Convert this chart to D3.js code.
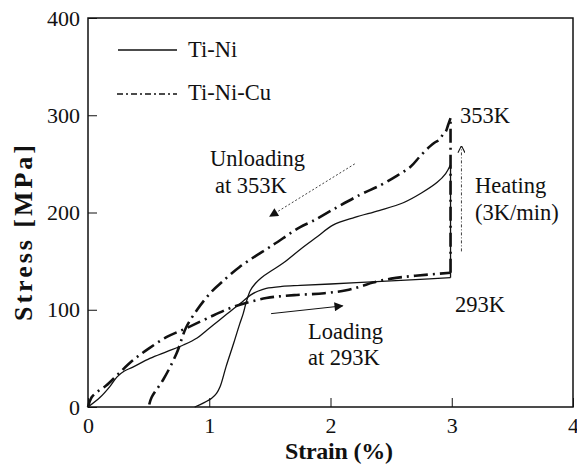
<!DOCTYPE html>
<html>
<head>
<meta charset="utf-8">
<script src="https://cdn.jsdelivr.net/npm/d3@7"></script>
<style>
  body { margin: 0; background: #fff; }
  svg text { font-family: "Liberation Serif", "Times New Roman", Times, serif; fill: #111; }
  .axis text { font-size: 22px; }
  .axis path, .axis line { stroke: #111; }
</style>
</head>
<body>
<div id="chart"></div>
<script>
// strain (%) / stress (MPa)
var xTicks = [0, 1, 2, 3, 4];
var yTicks = [0, 100, 200, 300, 400];

var tiNiLoad = [[0,0],[0.1,10],[0.18,21],[0.24,31],[0.3,37],[0.37,41],[0.51,50],[0.65,57],[0.79,64],[0.9,71],[0.98,79],[1.08,89],[1.17,98],[1.26,107],[1.34,115],[1.4,119],[1.47,122],[1.6,124],[1.75,125],[2.0,126.5],[2.38,129],[2.7,131],[2.99,133]];
var tiNiHeat = [[2.99,133],[2.99,249]];
var tiNiUnload = [[2.99,249],[2.95,240],[2.88,231],[2.75,220],[2.6,210],[2.4,202],[2.2,195],[2.02,187],[1.89,175],[1.75,162],[1.61,148],[1.5,139],[1.43,133],[1.38,127],[1.34,120],[1.31,110],[1.28,96],[1.25,85],[1.2,65],[1.14,42],[1.09,21],[1.06,14],[1.02,9],[0.95,4],[0.88,0]];

var cuLoad = [[0,0],[0.03,10],[0.07,15],[0.15,22],[0.25,34],[0.37,48],[0.5,60],[0.65,72],[0.81,81],[0.98,91],[1.2,103],[1.47,112],[1.7,115],[1.95,117],[2.13,120],[2.25,124],[2.35,128],[2.5,132],[2.7,135],[2.99,138]];
var cuHeat = [[2.99,138],[2.99,297]];
var cuUnload = [[2.99,297],[2.97,290],[2.95,283],[2.93,281],[2.9,275],[2.86,272],[2.82,268],[2.74,258],[2.66,247],[2.55,238],[2.41,228],[2.24,218],[2.02,203],[1.85,191],[1.75,185],[1.53,167],[1.25,144],[1.1,128],[1.03,120],[0.96,110],[0.9,100],[0.81,82],[0.73,55],[0.62,28],[0.525,10],[0.5,0]];

var width = 577, height = 469;
var margin = {left: 88, right: 4, top: 18, bottom: 62};

var svg = d3.select("#chart").append("svg")
  .attr("width", width)
  .attr("height", height);

var x = d3.scaleLinear().domain([0, 4]).range([margin.left, width - margin.right]);
var y = d3.scaleLinear().domain([0, 400]).range([height - margin.bottom, margin.top]);

// frame
svg.append("rect")
  .attr("x", x(0)).attr("y", y(400))
  .attr("width", x(4) - x(0)).attr("height", y(0) - y(400))
  .attr("fill", "none").attr("stroke", "#111").attr("stroke-width", 1.5);

var xAxis = svg.append("g")
  .attr("class", "axis")
  .attr("transform", "translate(0," + y(0) + ")")
  .call(d3.axisBottom(x).tickValues(xTicks).tickSizeInner(-9).tickSizeOuter(0).tickPadding(10).tickFormat(d3.format("d")));
xAxis.select(".domain").remove();
xAxis.attr("font-family", null).attr("font-size", null);

var yAxis = svg.append("g")
  .attr("class", "axis")
  .attr("transform", "translate(" + x(0) + ",0)")
  .call(d3.axisLeft(y).tickValues(yTicks).tickSizeInner(-9).tickSizeOuter(0).tickPadding(8).tickFormat(d3.format("d")));
yAxis.select(".domain").remove();
yAxis.attr("font-family", null).attr("font-size", null);

// axis titles
svg.append("text")
  .attr("x", 339).attr("y", 459)
  .attr("text-anchor", "middle")
  .attr("font-weight", "bold").attr("font-size", 24)
  .attr("textLength", 108).attr("lengthAdjust", "spacing")
  .text("Strain (%)");

svg.append("text")
  .attr("transform", "translate(32,233) rotate(-90)")
  .attr("text-anchor", "middle")
  .attr("font-weight", "bold").attr("font-size", 26)
  .attr("textLength", 176).attr("lengthAdjust", "spacing")
  .text("Stress [MPa]");

var smooth = d3.line()
  .x(function(d) { return x(d[0]); })
  .y(function(d) { return y(d[1]); })
  .curve(d3.curveCatmullRom.alpha(0.5));
var straight = d3.line()
  .x(function(d) { return x(d[0]); })
  .y(function(d) { return y(d[1]); });

var dashDot = "14,5,2,5";

[tiNiLoad, tiNiUnload].forEach(function(s) {
  svg.append("path").attr("d", smooth(s))
    .attr("fill", "none").attr("stroke", "#111").attr("stroke-width", 1.3);
});
svg.append("path").attr("d", straight(tiNiHeat))
  .attr("fill", "none").attr("stroke", "#111").attr("stroke-width", 1.3);

[cuLoad, cuUnload].forEach(function(s) {
  svg.append("path").attr("d", smooth(s))
    .attr("fill", "none").attr("stroke", "#111").attr("stroke-width", 2.6)
    .attr("stroke-dasharray", dashDot);
});
svg.append("path").attr("d", straight(cuHeat))
  .attr("fill", "none").attr("stroke", "#111").attr("stroke-width", 2.6)
  .attr("stroke-dasharray", dashDot);

// legend
svg.append("line").attr("x1", 118).attr("x2", 177).attr("y1", 50).attr("y2", 50)
  .attr("stroke", "#111").attr("stroke-width", 1.3);
svg.append("text").attr("x", 188).attr("y", 57).attr("font-size", 22.5).text("Ti-Ni");
svg.append("line").attr("x1", 117).attr("x2", 177).attr("y1", 94).attr("y2", 94)
  .attr("stroke", "#111").attr("stroke-width", 1.3).attr("stroke-dasharray", "6,3,2,3");
svg.append("text").attr("x", 188).attr("y", 100).attr("font-size", 22.5).text("Ti-Ni-Cu");

// arrows
var defs = svg.append("defs");
defs.append("marker")
  .attr("id", "head")
  .attr("viewBox", "0 0 10 10")
  .attr("refX", 9).attr("refY", 5)
  .attr("markerUnits", "userSpaceOnUse")
  .attr("markerWidth", 11).attr("markerHeight", 9)
  .attr("orient", "auto")
  .append("path").attr("d", "M0,0 L10,5 L0,10 Z").attr("fill", "#111");
defs.append("marker")
  .attr("id", "open")
  .attr("viewBox", "0 0 10 10")
  .attr("refX", 9).attr("refY", 5)
  .attr("markerUnits", "userSpaceOnUse")
  .attr("markerWidth", 7).attr("markerHeight", 8)
  .attr("orient", "auto")
  .append("path").attr("d", "M0,0 L10,5 L0,10").attr("fill", "none").attr("stroke", "#111").attr("stroke-width", 1.5);

svg.append("line")
  .attr("x1", x(2.2)).attr("y1", y(250)).attr("x2", x(1.5)).attr("y2", y(196))
  .attr("stroke", "#111").attr("stroke-width", 0.8).attr("stroke-dasharray", "2,2")
  .attr("marker-end", "url(#head)");
svg.append("line")
  .attr("x1", x(1.51)).attr("y1", y(96)).attr("x2", x(2.1)).attr("y2", y(104))
  .attr("stroke", "#111").attr("stroke-width", 1)
  .attr("marker-end", "url(#head)");
svg.append("line")
  .attr("x1", x(3.08)).attr("y1", y(160)).attr("x2", x(3.08)).attr("y2", y(268))
  .attr("stroke", "#111").attr("stroke-width", 0.8).attr("stroke-dasharray", "3,2,1,2")
  .attr("marker-end", "url(#open)");

// annotations
var notes = [
  {t: "Unloading", x: 210, y: 166},
  {t: "at 353K", x: 215, y: 193},
  {t: "353K", x: 460, y: 123},
  {t: "Heating", x: 475, y: 193},
  {t: "(3K/min)", x: 475, y: 220},
  {t: "293K", x: 455, y: 312},
  {t: "Loading", x: 308, y: 339},
  {t: "at 293K", x: 308, y: 365}
];
svg.selectAll(".note").data(notes).enter().append("text")
  .attr("class", "note")
  .attr("x", function(d) { return d.x; })
  .attr("y", function(d) { return d.y; })
  .attr("font-size", 22.5)
  .text(function(d) { return d.t; });
</script>
</body>
</html>
